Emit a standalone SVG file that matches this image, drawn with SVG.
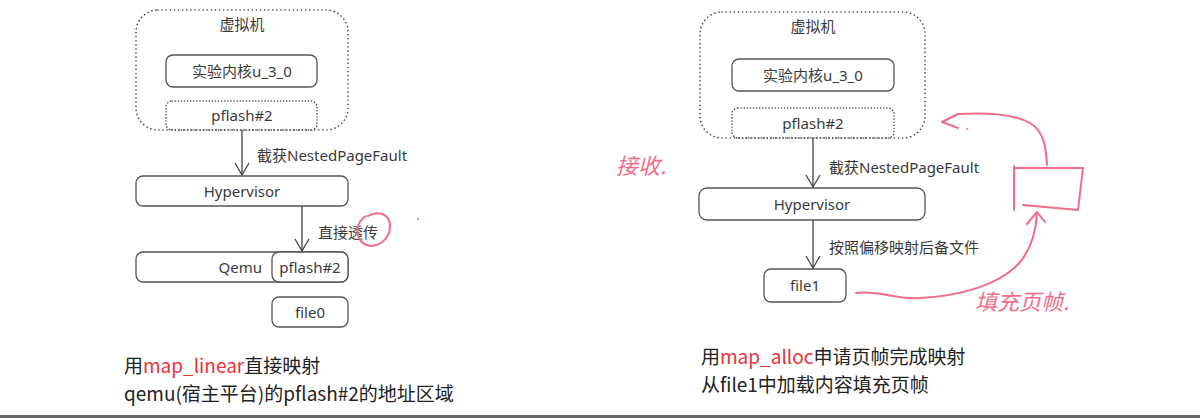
<svg xmlns="http://www.w3.org/2000/svg" width="1200" height="418" viewBox="0 0 1200 418">
<defs>
<style>
.t{font-family:"Noto Sans","Noto Sans CJK SC",sans-serif;font-size:15px;fill:#3a3a3a}
.c{text-anchor:middle}
.box{fill:#fff;stroke:#555;stroke-width:1.3}
.vm{fill:none;stroke:#444;stroke-width:1.6;stroke-dasharray:0.1 4;stroke-linecap:round}
.pf{fill:none;stroke:#444;stroke-width:1.5;stroke-dasharray:0.1 3;stroke-linecap:round}
.con{stroke:#444;stroke-width:1.3;fill:none}
.cap{font-family:"Noto Sans CJK SC","Noto Sans",sans-serif;font-size:19px;fill:#222}
.red{fill:#e8333a}
.pink{stroke:#f06d8a;stroke-width:2;fill:none;stroke-linecap:round;stroke-linejoin:round}
.hw{font-family:"Noto Sans CJK SC",sans-serif;font-size:22px;fill:#f06d8a;font-style:italic}
</style>
<marker id="arr" markerWidth="16" markerHeight="16" refX="13" refY="8" orient="auto" markerUnits="userSpaceOnUse" viewBox="0 0 16 16">
<path d="M1 1 L13 8 L1 15" fill="none" stroke="#444" stroke-width="1.3"/>
</marker>
</defs>
<rect width="1200" height="418" fill="#fff"/>

<!-- Left diagram -->
<g id="vm-left">
<rect class="vm" x="136" y="10" width="212" height="120" rx="22"/>
<text class="t c" x="242" y="30">虚拟机</text>
</g>
<g id="kernel-left">
<rect class="box" x="166" y="55" width="151" height="32" rx="7"/>
<text class="t c" x="242" y="77">实验内核u_3_0</text>
</g>
<g id="pflash-vm-left">
<rect class="pf" x="166" y="101" width="151" height="29" rx="6"/>
<text class="t c" x="242" y="121">pflash#2</text>
</g>
<g id="hyp-left">
<rect class="box" x="136" y="176" width="212" height="30" rx="7"/>
<text class="t c" x="242" y="197">Hypervisor</text>
</g>
<g id="qemu-left">
<rect class="box" x="136" y="252" width="212" height="30" rx="7"/>
<text class="t" x="262" y="273" text-anchor="end">Qemu</text>
</g>
<g id="pflash-qemu-left">
<rect class="box" x="272" y="252" width="76" height="30" rx="7" stroke="#333" stroke-width="1.8"/>
<text class="t c" x="310" y="273">pflash#2</text>
</g>
<g id="file0">
<rect class="box" x="272" y="297" width="76" height="30" rx="7"/>
<text class="t c" x="310" y="318">file0</text>
</g>

<!-- Right diagram -->
<g id="vm-right">
<rect class="vm" x="700" y="12" width="225" height="126" rx="22"/>
<text class="t c" x="813" y="32">虚拟机</text>
</g>
<g id="kernel-right">
<rect class="box" x="732" y="59" width="162" height="32" rx="7"/>
<text class="t c" x="813" y="81">实验内核u_3_0</text>
</g>
<g id="pflash-vm-right">
<rect class="pf" x="732" y="108" width="162" height="30" rx="6"/>
<text class="t c" x="813" y="129">pflash#2</text>
</g>
<g id="hyp-right">
<rect class="box" x="699" y="188" width="226" height="32" rx="8"/>
<text class="t c" x="812" y="210">Hypervisor</text>
</g>
<g id="file1">
<rect class="box" x="764" y="269" width="82" height="33" rx="7"/>
<text class="t c" x="805" y="291">file1</text>
</g>

<g id="connectors">
<line class="con" x1="242" y1="130" x2="242" y2="175" marker-end="url(#arr)"/>
<text class="t" x="257" y="161">截获NestedPageFault</text>
<line class="con" x1="302" y1="206" x2="302" y2="251" marker-end="url(#arr)"/>
<text class="t" x="318" y="238">直接透传</text>
<line class="con" x1="813" y1="138" x2="813" y2="187" marker-end="url(#arr)"/>
<text class="t" x="829" y="173">截获NestedPageFault</text>
<line class="con" x1="813" y1="220" x2="813" y2="268" marker-end="url(#arr)"/>
<text class="t" x="829" y="253">按照偏移映射后备文件</text>
</g>

<!-- captions -->
<text class="cap" x="124" y="373">用<tspan class="red">map_linear</tspan>直接映射</text>
<text class="cap" x="124" y="401">qemu(宿主平台)的pflash#2的地址区域</text>
<text class="cap" x="701" y="364">用<tspan class="red">map_alloc</tspan>申请页帧完成映射</text>
<text class="cap" x="701" y="392">从file1中加载内容填充页帧</text>

<!-- handwritten annotations -->
<g id="annotations">
<path class="pink" d="M366 216 C356 222 354 236 364 244 C376 250 390 240 390 226 C390 214 378 210 368 216"/>
<circle cx="418" cy="219" r="1" fill="#f06d8a"/>
<text class="hw" x="616" y="174">接收.</text>
<path class="pink" d="M856 293 C880 290 895 300 920 298 C960 296 1000 285 1020 262 C1032 248 1036 230 1037 213"/>
<path class="pink" d="M1027 224 L1037 212 L1045 222"/>
<path class="pink" d="M1014 166 L1014 210 M1014 168 L1083 168 L1078 210 L1023 205"/>
<path class="pink" d="M1047 165 C1046 150 1045 132 1030 123 C1012 113 985 113 958 114 L942 122 M942 122 L958 128"/>
<circle cx="967" cy="129" r="1" fill="#f06d8a"/>
<text class="hw" x="975" y="310">填充页帧.</text>
</g>

<rect x="0" y="415" width="1200" height="3" fill="#666"/>
</svg>
